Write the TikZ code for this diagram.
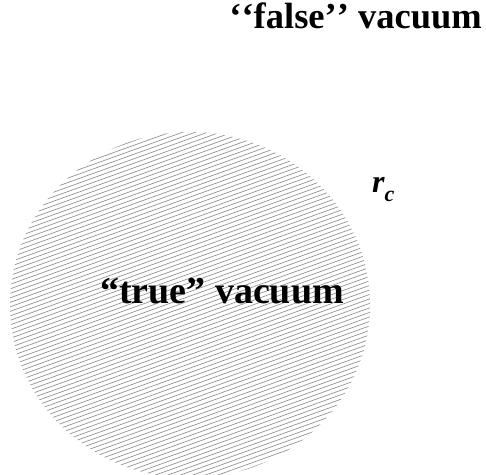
\documentclass[tikz,border=0pt]{standalone}
\usepackage{fontspec}
\setmainfont{Liberation Serif}
\tikzset{
  label text/.style={font=\fontsize{38}{44}\selectfont\bfseries, inner sep=0pt},
  hatch line/.style={gray!85, line width=0.7pt}
}
\begin{document}
\begin{tikzpicture}[x=1pt,y=1pt]
\useasboundingbox (0,0) rectangle (486,474);
\begin{scope}
  \clip (190,169) ellipse [x radius=180, y radius=173];
  \foreach \b in {-300,-295.5,...,520} {
    \draw[hatch line] (0,\b) -- (486,\b+175);
  }
\end{scope}
\node[label text, anchor=base] (truev) at (222,171) {“true” vacuum};
\node[label text, font=\fontsize{36.5}{42}\selectfont\bfseries, anchor=base east] (falsev) at (482,445) {\hbox{‘}\hbox{‘}false\hbox{’}\hbox{’} vacuum};
\node[font=\fontsize{32}{38}\selectfont\bfseries\itshape, inner sep=0pt, anchor=base west] (rc) at (372,281) {r\raisebox{-9pt}{\fontsize{22}{26}\selectfont c}};
\end{tikzpicture}
\end{document}
